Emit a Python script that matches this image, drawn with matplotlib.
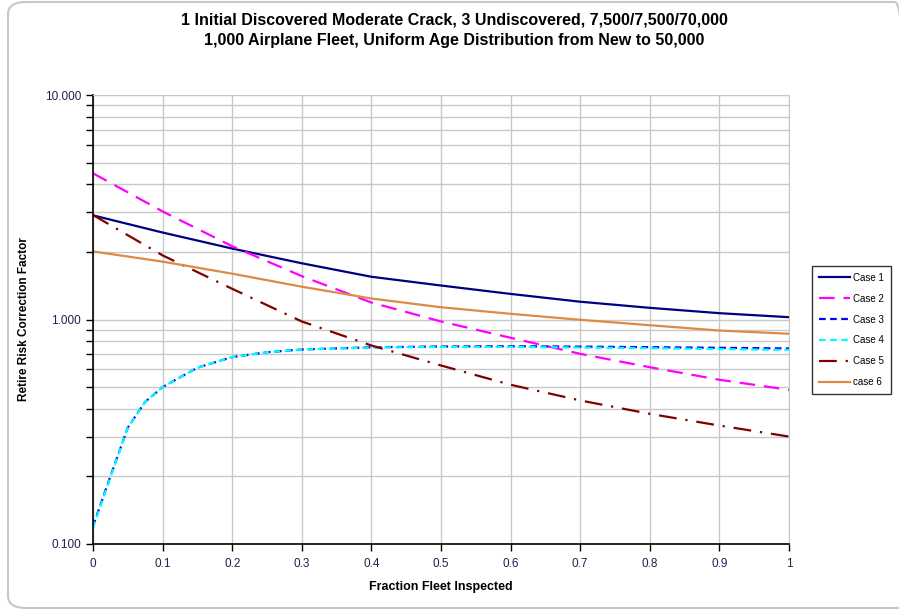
import matplotlib
matplotlib.use('Agg')
from matplotlib import pyplot as plt
from matplotlib.patches import FancyBboxPatch
from matplotlib.ticker import LogLocator, FixedLocator, FormatStrFormatter

plt.rcParams['font.family'] = ['Liberation Sans', 'DejaVu Sans']

# fraction of fleet inspected
frac = [0.0, 0.1, 0.2, 0.3, 0.4, 0.5, 0.6, 0.7, 0.8, 0.9, 1.0]
case1 = [2.91, 2.44, 2.07, 1.78, 1.55, 1.417, 1.30, 1.20, 1.127, 1.067, 1.024]
case2 = [4.48, 3.03, 2.12, 1.56, 1.19, 0.98, 0.829, 0.703, 0.613, 0.539, 0.486]
case5 = [2.92, 1.93, 1.37, 0.98, 0.766, 0.624, 0.512, 0.436, 0.38, 0.337, 0.301]
case6 = [2.01, 1.81, 1.60, 1.40, 1.24, 1.134, 1.06, 0.997, 0.943, 0.893, 0.864]

# cases 3 and 4 rise steeply at low inspection fractions, so sampled finer
frac34 = [0.0, 0.025, 0.05, 0.075, 0.1, 0.15, 0.2, 0.25, 0.3, 0.4, 0.5, 0.6, 0.7, 0.8, 0.9, 1.0]
case3 = [0.12, 0.20, 0.33, 0.43, 0.50, 0.61, 0.68, 0.715, 0.735, 0.752, 0.758, 0.76, 0.757, 0.753, 0.748, 0.743]
case4 = [0.118, 0.198, 0.33, 0.43, 0.50, 0.61, 0.68, 0.715, 0.735, 0.75, 0.755, 0.755, 0.75, 0.745, 0.738, 0.732]

fig = plt.figure(figsize=(8.99, 6.13), dpi=100)
fig.patch.set_facecolor('white')

# rounded chart frame
frame = FancyBboxPatch((8/899, 5/613), 905/899, 606/613,
                       boxstyle='round,pad=0,rounding_size=0.02',
                       transform=fig.transFigure, facecolor='none',
                       edgecolor='#C8C8C8', lw=1.5, zorder=0)
fig.patches.append(frame)

ax = fig.add_axes([93/899, 1 - 544/613, (789 - 93)/899, (544 - 95)/613])

ax.plot(frac, case1, color='#000080', lw=1.6, label='Case 1')
ax.plot(frac, case2, color='#FF00FF', lw=1.6, dashes=(7, 4), label='Case 2')
ax.plot(frac34, case3, color='#0000FF', lw=1.6, dashes=(3, 2), label='Case 3')
ax.plot(frac34, case4, color='#00FFFF', lw=1.6, dashes=(3, 2), label='Case 4')
ax.plot(frac, case5, color='#800000', lw=1.6, dashes=(8, 4, 1, 4), label='Case 5')
ax.plot(frac, case6, color='#DE8A44', lw=1.6, label='case 6')

ax.set_yscale('log')
ax.set_ylim(0.1, 10)
ax.set_xlim(0, 1)
ax.xaxis.set_major_locator(FixedLocator([0, 0.1, 0.2, 0.3, 0.4, 0.5, 0.6, 0.7, 0.8, 0.9, 1.0]))
ax.set_xticklabels(['0', '0.1', '0.2', '0.3', '0.4', '0.5', '0.6', '0.7', '0.8', '0.9', '1'])
ax.yaxis.set_major_locator(LogLocator(base=10, numticks=5))
ax.yaxis.set_major_formatter(FormatStrFormatter('%.3f'))
ax.yaxis.set_minor_locator(LogLocator(base=10, subs=range(2, 10), numticks=20))
ax.yaxis.set_minor_formatter(plt.NullFormatter())

ax.grid(True, which='major', color='#C8C8C8', lw=1)
ax.grid(True, which='minor', axis='y', color='#C8C8C8', lw=1)
ax.set_axisbelow(True)

for side in ['top', 'right']:
    ax.spines[side].set_color('#C8C8C8')
for side in ['left', 'bottom']:
    ax.spines[side].set_color('black')
    ax.spines[side].set_linewidth(1.2)

ax.tick_params(which='both', direction='out', length=5, width=1, labelsize=8.5,
               colors='black', labelcolor='#1F1F50')
ax.tick_params(axis='x', pad=5)

ax.set_xlabel('Fraction Fleet Inspected', fontsize=9, fontweight='bold')
ax.xaxis.set_label_coords(0.5, -(581 - 544)/449)
ax.set_ylabel('Retire Risk Correction Factor', fontsize=8.5, fontweight='bold')
ax.yaxis.set_label_coords(-(93 - 30)/696, 0.5)

fig.text(0.505, 1 - 20/613, '1 Initial Discovered Moderate Crack, 3 Undiscovered, 7,500/7,500/70,000',
         ha='center', va='center', fontsize=11.5, fontweight='bold')
fig.text(0.505, 1 - 40/613, '1,000 Airplane Fleet, Uniform Age Distribution from New to 50,000',
         ha='center', va='center', fontsize=11.5, fontweight='bold')

leg = ax.legend(loc='center left', bbox_to_anchor=(812/899, 1 - 330/613),
                bbox_transform=fig.transFigure, fontsize=7, frameon=True,
                fancybox=False, edgecolor='black', handlelength=3.2,
                handletextpad=0.3, labelspacing=1.12, borderpad=0.7, borderaxespad=0)
leg.get_frame().set_linewidth(1)

fig.savefig('out.png', dpi=100)
